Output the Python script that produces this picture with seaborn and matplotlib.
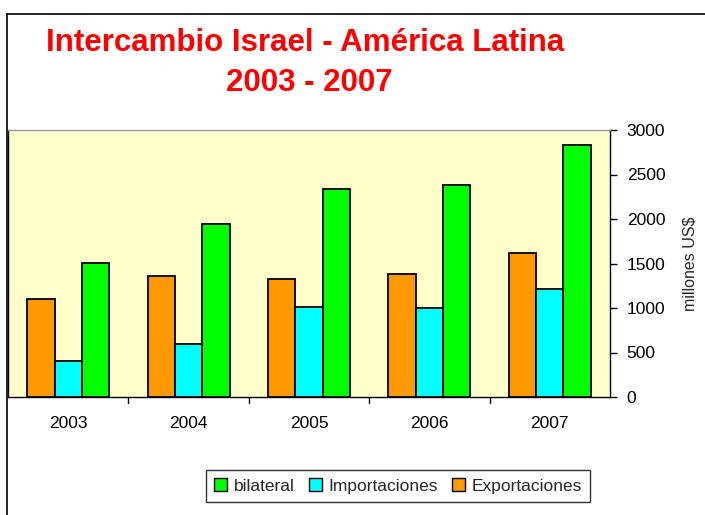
import pandas as pd
import matplotlib.pyplot as plt
import seaborn as sns
from matplotlib.lines import Line2D

years = ["2003", "2004", "2005", "2006", "2007"]
exportaciones = [1100, 1360, 1325, 1380, 1615]
importaciones = [410, 595, 1010, 1000, 1210]
bilateral = [1510, 1945, 2335, 2380, 2830]

series = ["Exportaciones", "Importaciones", "bilateral"]
colors = ["#FF9900", "#00FFFF", "#00FF00"]

df = pd.DataFrame({
    "year": years * 3,
    "serie": ["Exportaciones"] * 5 + ["Importaciones"] * 5 + ["bilateral"] * 5,
    "valor": exportaciones + importaciones + bilateral,
})

sns.set_style("white")
plt.rcParams['font.family'] = ['Liberation Sans', 'DejaVu Sans']

fig = plt.figure(figsize=(7.05, 5.15), dpi=100)
ax = fig.add_axes([8 / 705, 1 - 397 / 515, 602 / 705, 267 / 515])

sns.barplot(data=df, x="year", y="valor", hue="serie", hue_order=series,
            palette=colors, width=0.68, edgecolor="black", linewidth=1.3,
            saturation=1, ax=ax, legend=False)

ax.set_facecolor("#FFFFCC")
ax.set_ylim(0, 3000)
ax.set_xlim(-0.5, 4.5)
ax.set_yticks(range(0, 3001, 500))
ax.yaxis.tick_right()
ax.yaxis.set_label_position("right")
ax.set_ylabel("millones US$", fontsize=11.5, labelpad=12)
ax.set_xlabel("")
ax.tick_params(axis="both", labelsize=12.5, length=5, width=1, colors="black",
               direction="out")
ax.tick_params(axis="x", pad=14)
ax.tick_params(axis="y", pad=7)

# category boundary ticks on x axis
ax.set_xticks([0, 1, 2, 3, 4])
ax.tick_params(axis="x", length=0)
for b in [0.5, 1.5, 2.5, 3.5]:
    ax.plot([b, b], [0, -0.022], transform=ax.get_xaxis_transform(),
            color="black", lw=1, clip_on=False)

for s in ["left", "right", "bottom"]:
    ax.spines[s].set_color("black")
    ax.spines[s].set_linewidth(1)
ax.spines["top"].set_color("#999999")
ax.spines["top"].set_linewidth(1)

# legend
handles = [plt.Rectangle((0, 0), 1, 1, facecolor=c, edgecolor="black", lw=1)
           for c in colors[::-1]]
fig.legend(handles, series[::-1], loc="center", bbox_to_anchor=(398 / 705, 1 - 486 / 515),
           ncol=3, fontsize=12.5, frameon=True, fancybox=False, edgecolor="black",
           handlelength=0.75, handleheight=0.75, handletextpad=0.4, columnspacing=0.8,
           borderpad=0.45)

# title
fig.text(305 / 705, 1 - 43 / 515, "Intercambio Israel - América Latina",
         color="red", fontsize=22.5, fontweight="bold", ha="center", va="center")
fig.text(309 / 705, 1 - 83 / 515, "2003 - 2007",
         color="red", fontsize=22.5, fontweight="bold", ha="center", va="center")

# outer frame
fig.add_artist(Line2D([7 / 705, 7 / 705], [0, 1 - 14 / 515], color="black", lw=1.2,
                      transform=fig.transFigure))
fig.add_artist(Line2D([7 / 705, 1], [1 - 14 / 515, 1 - 14 / 515], color="black", lw=1.2,
                      transform=fig.transFigure))

plt.savefig("out.png", dpi=100)
plt.close()
